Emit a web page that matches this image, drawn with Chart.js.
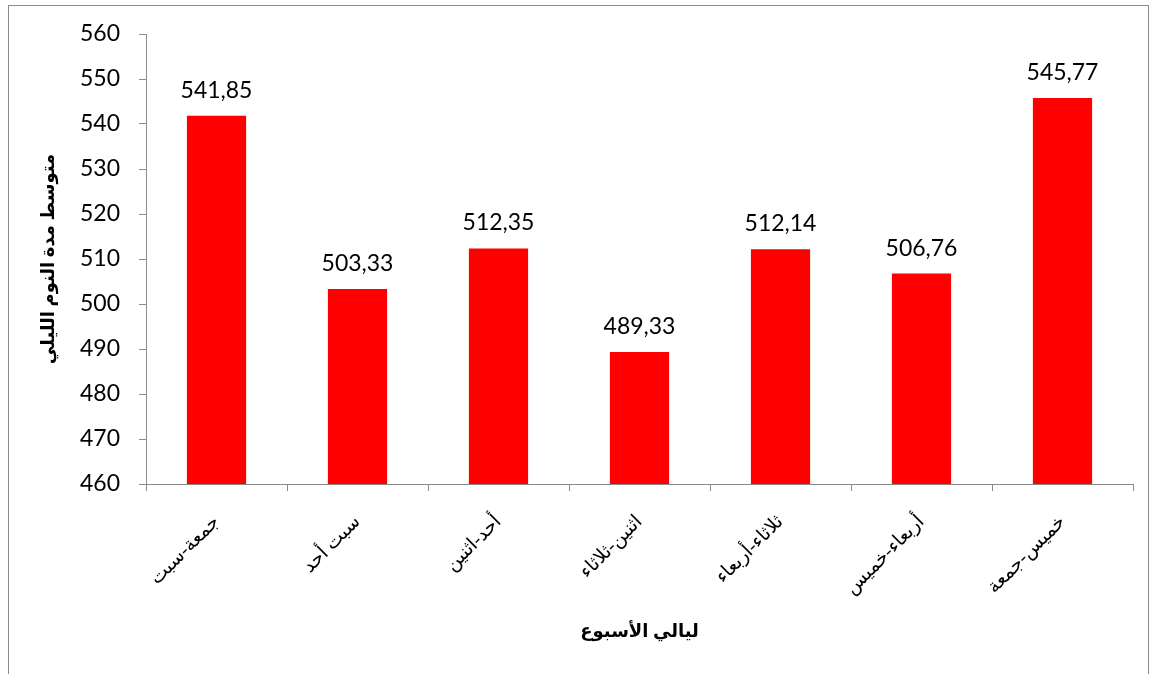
<!DOCTYPE html>
<html>
<head>
<meta charset="utf-8">
<script src="https://cdn.jsdelivr.net/npm/chart.js@4"></script>
<style>
  html, body { margin: 0; padding: 0; background: #fff; }
  #wrap { width: 1156px; height: 674px; position: relative; }
</style>
</head>
<body>
<div id="wrap"><canvas id="chartNights"></canvas></div>
<script>
const nights = ["جمعة-سبت", "سبت أحد", "أحد-اثنين", "اثنين-ثلاثاء", "ثلاثاء-أربعاء", "أربعاء-خميس", "خميس-جمعة"];
const sleepMinutes = [541.85, 503.33, 512.35, 489.33, 512.14, 506.76, 545.77];
const yTicks = [460, 470, 480, 490, 500, 510, 520, 530, 540, 550, 560];

const numFont = "Lato, 'Liberation Sans', sans-serif";
const arFont = "'Liberation Serif', 'DejaVu Sans', serif";

// value labels over each bar, decimal comma like the original
const valueLabels = {
    id: 'valueLabels',
    afterDatasetsDraw(chart) {
        const ctx = chart.ctx;
        const meta = chart.getDatasetMeta(0);
        ctx.save();
        ctx.font = "23px " + numFont;
        ctx.fillStyle = '#000';
        ctx.textAlign = 'center';
        ctx.textBaseline = 'bottom';
        meta.data.forEach((bar, i) => {
            const txt = sleepMinutes[i].toFixed(2).replace('.', ',');
            ctx.fillText(txt, bar.x, bar.y - 14);
        });
        ctx.restore();
    }
};

// outer chart frame
const frame = {
    id: 'frame',
    beforeDraw(chart) {
        const ctx = chart.ctx;
        ctx.save();
        ctx.strokeStyle = '#8c8c8c';
        ctx.lineWidth = 1;
        ctx.strokeRect(8.5, 5.5, 1140, 700);
        ctx.restore();
    }
};

const ctx = document.getElementById("chartNights").getContext('2d');
new Chart(ctx, {
    type: "bar",
    data: {
        labels: nights,
        datasets: [{
            label: "متوسط مدة النوم الليلي",
            data: sleepMinutes,
            backgroundColor: '#FF0000',
            borderWidth: 0,
            barPercentage: 0.42,
            categoryPercentage: 1
        }]
    },
    options: {
        responsive: true,
        maintainAspectRatio: false,
        animation: false,
        layout: { padding: { left: 0, top: 34, right: 23, bottom: 0 } },
        plugins: {
            legend: { display: false },
            tooltip: { enabled: false }
        },
        scales: {
            x: {
                afterFit: s => { s.height = 190; },
                grid: { display: true, drawOnChartArea: false, offset: true, tickLength: 7, color: '#8c8c8c' },
                border: { color: '#8c8c8c' },
                ticks: {
                    maxRotation: 45, minRotation: 45,
                    padding: 20,
                    color: '#000',
                    font: { family: arFont, size: 19 }
                },
                title: {
                    display: true,
                    text: "ليالي الأسبوع",
                    color: '#000',
                    font: { family: arFont, size: 18, weight: 'bold' },
                    padding: { top: 0, bottom: 31 }
                }
            },
            y: {
                min: 460, max: 560,
                afterFit: s => { s.width = 146; },
                afterBuildTicks: s => { s.ticks = yTicks.map(v => ({ value: v })); },
                grid: { display: true, drawOnChartArea: false, tickLength: 7, color: '#8c8c8c' },
                border: { color: '#8c8c8c' },
                ticks: {
                    padding: 19,
                    color: '#000',
                    font: { family: numFont, size: 23 }
                },
                title: {
                    display: true,
                    text: "متوسط مدة النوم الليلي",
                    color: '#000',
                    font: { family: arFont, size: 18, weight: 'bold' },
                    padding: { top: 39, bottom: 0 }
                }
            }
        }
    },
    plugins: [frame, valueLabels]
});
</script>
</body>
</html>
